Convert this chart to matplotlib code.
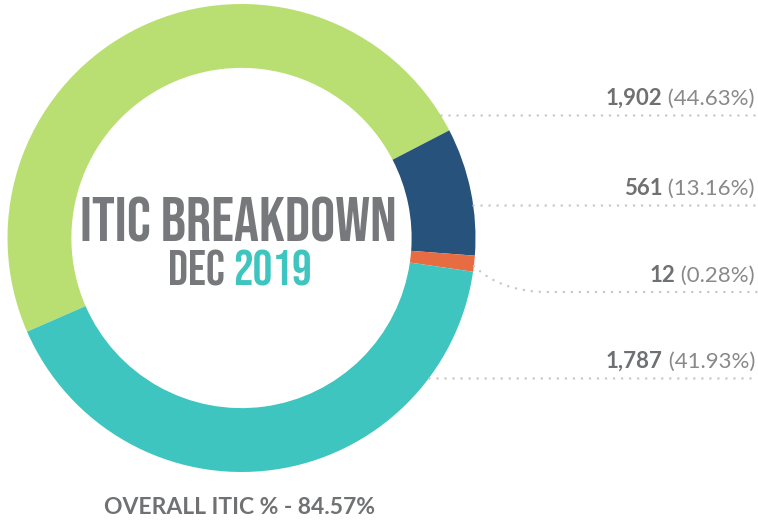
import matplotlib
matplotlib.use("Agg")
import matplotlib.pyplot as plt
import numpy as np

# label data shown on the right
counts = [1902, 561, 12, 1787]
percents = [44.63, 13.16, 0.28, 41.93]
# arc shares as drawn in the ring
arc_share = [48.9, 8.8, 1.1, 41.1]
colors = ['#b9df72', '#27527c', '#e76c42', '#3fc5bf']
title = 'ITIC BREAKDOWN'
sub_month, sub_year = 'DEC', '2019'
footer = 'OVERALL ITIC % - 84.57%'

TITLE_FONT = ['Bebas Neue', 'League Gothic', 'Oswald', 'DejaVu Sans']
BODY_FONT = ['Lato', 'DejaVu Sans']

W, H = 758, 529
fig = plt.figure(figsize=(W / 100, H / 100), dpi=100)
ax = fig.add_axes([0, 0, 1, 1])


def yy(y):
    # convert pixel-from-top to axis coordinate
    return H - y


cx, cy, R = 241.5, 238, 234
ax.pie(arc_share, colors=colors, radius=R, center=(cx, yy(cy)),
       startangle=203.6, counterclock=False,
       wedgeprops=dict(width=R * 0.273, linewidth=0), frame=True)
ax.set_xlim(0, W)
ax.set_ylim(0, H)
ax.set_aspect('equal')
ax.axis('off')

dot = dict(color='#c6c6c6', lw=1.8, linestyle=(0, (0.01, 3.2)), dash_capstyle='round')

# label rows: text baseline and dotted line
text_base = [105, 195, 282, 368]
line_y = [115, 205, 292, 378]
for i, ly in enumerate(line_y):
    if i == 2:
        t = np.linspace(0, 1, 30)
        p0, p1, p2 = np.array([474, 266]), np.array([500, 291]), np.array([545, 292])
        pts = ((1 - t)[:, None] ** 2) * p0 + 2 * ((1 - t) * t)[:, None] * p1 + (t[:, None] ** 2) * p2
        ax.plot(np.r_[pts[:, 0], W], yy(np.r_[pts[:, 1], ly]), **dot)
    else:
        x0 = cx + np.sqrt(R ** 2 - (ly - cy) ** 2)
        ax.plot([x0, W], [yy(ly), yy(ly)], **dot)

fig.canvas.draw()
r = fig.canvas.get_renderer()
inv = ax.transData.inverted()

for c, p, b in zip(counts, percents, text_base):
    tp = ax.text(755, yy(b), f' ({p:.2f}%)', ha='right', va='baseline',
                 fontsize=16, family=BODY_FONT, color='#88898b')
    bb = tp.get_window_extent(r)
    xl = inv.transform((bb.x0, bb.y0))[0]
    ax.text(xl, yy(b), f'{c:,}', ha='right', va='baseline',
            fontsize=16, family=BODY_FONT, fontweight='bold', color='#6f7072')

# centre title
ax.text(cx - 3, yy(242), title, ha='center', va='baseline', fontsize=45,
        family=TITLE_FONT, color='#77787b')
tm = ax.text(0, yy(286), sub_month + ' ', ha='left', va='baseline', fontsize=35.5,
             family=TITLE_FONT, color='#77787b')
ty = ax.text(0, yy(286), sub_year, ha='left', va='baseline', fontsize=35.5,
             family=TITLE_FONT, color='#3fc5bf')
wm = tm.get_window_extent(r).width
wy = ty.get_window_extent(r).width
start = 240 - (wm + wy) / 2
tm.set_x(start)
ty.set_x(start + wm)

ax.text(239.5, yy(514), footer, ha='center', va='baseline', fontsize=16.5,
        family=BODY_FONT, fontweight='bold', color='#707173')

fig.savefig('out.png', dpi=100)
